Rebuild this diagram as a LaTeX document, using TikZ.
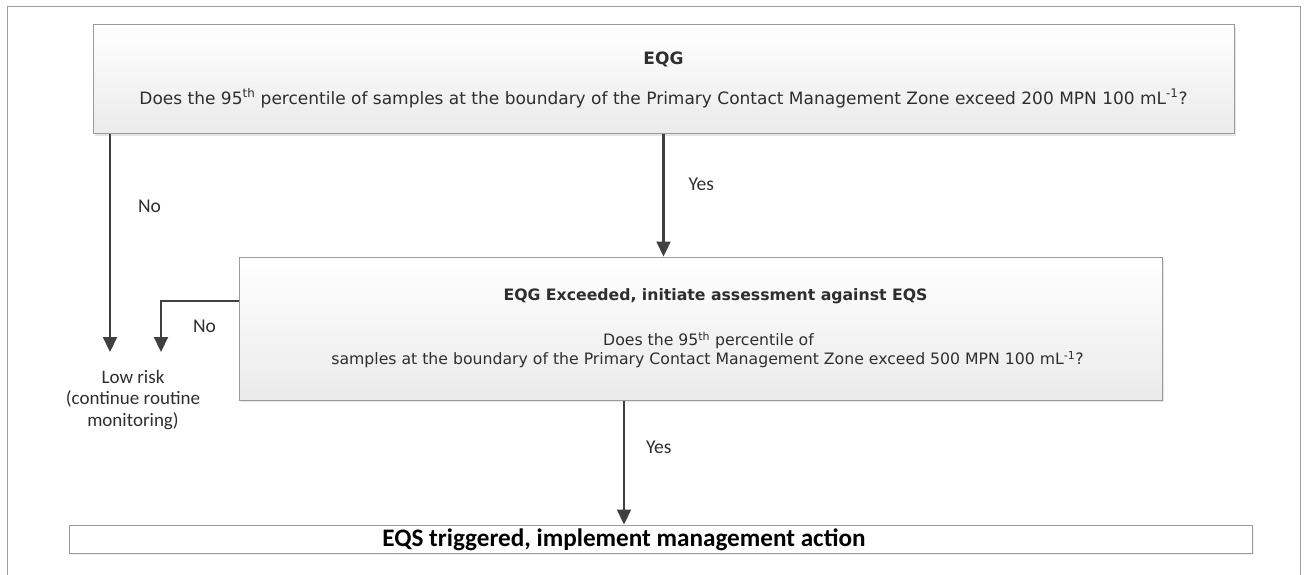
\documentclass[tikz,border=0pt]{standalone}
\usepackage{fontspec}
\setmainfont{DejaVu Sans}
\newfontfamily\calfont{Carlito}
\usepackage{tikz}
\usetikzlibrary{arrows.meta,shadows}

\definecolor{boxline}{HTML}{9A9A9A}
\definecolor{flowline}{HTML}{404040}
\definecolor{bodytext}{HTML}{2E2E2E}

\tikzset{
	qbox/.style={draw=boxline, line width=1pt, top color=white, bottom color=black!8,
		drop shadow={shadow xshift=2pt, shadow yshift=-2pt, opacity=0.25, fill=black!40},
		align=center, text=bodytext, inner sep=0pt},
	endbox/.style={draw=boxline, line width=1pt, fill=white,
		drop shadow={shadow xshift=2pt, shadow yshift=-2pt, opacity=0.15, fill=black!40},
		minimum width=1183pt, minimum height=28pt, inner sep=0pt},
	flow/.style={draw=flowline, line width=2.2pt, -{Triangle[length=15pt, width=14pt]}},
	lbl/.style={font=\calfont\fontsize{19.5}{22}\selectfont, text=bodytext, inner sep=0pt, anchor=west},
	frame/.style={draw=black!38, line width=1pt}
}

\begin{document}
\begin{tikzpicture}[x=1pt, y=-1pt]
		%%%%% START %%%%%
		\useasboundingbox (0,0) rectangle (1306,575);
		\draw[frame] (7,575) -- (7,7) -- (1300,7) -- (1300,575);
		
		% first test against the EQG
		\node[qbox, minimum width=1141pt, minimum height=109pt,
			font=\fontsize{17}{20}\selectfont] (q1) at (663.5,79.5)
			{\textbf{EQG}\\[20pt]
			Does the 95\textsuperscript{th} percentile of samples at the boundary of the Primary Contact Management Zone exceed 200 MPN 100 mL\textsuperscript{-1}?};
		
		% second test against the EQS (text sits a little right of centre)
		\node[qbox, minimum width=923pt, minimum height=143pt,
			font=\fontsize{15.7}{19}\selectfont] (q2) at (700.5,328.5)
			{\hspace*{30pt}\textbf{EQG Exceeded, initiate assessment against EQS}\\[26pt]
			\hspace*{16pt}Does the 95\textsuperscript{th} percentile of\\
			\hspace*{14pt}samples at the boundary of the Primary Contact Management Zone exceed 500 MPN 100 mL\textsuperscript{-1}?};
		
		% outcomes
		\node[align=center, text=bodytext, inner sep=0pt,
			font=\calfont\fontsize{19}{21.5}\selectfont] (low) at (133,400)
			{Low risk\\(continue routine\\monitoring)};
		\node[endbox] (act) at (660.5,539) {};
		\node[font=\calfont\bfseries\fontsize{25.2}{28}\selectfont, inner sep=0pt] (acttxt) at (624,540)
			{EQS triggered, implement management action};
		
		\coordinate (noA) at (110,352);
		\coordinate (noB) at (161,352);
		
		% connectors
		\draw[flow] (q1.south -| noA) -- (noA) node[lbl, pos=0.33, xshift=27pt] {No};
		\draw[flow] (q1.south) -- (q1.south |- q2.north) node[lbl, pos=0.41, xshift=24pt] {Yes};
		\draw[flow] ([yshift=27.5pt]q2.west) -| (noB) node[lbl, pos=0.75, xshift=31pt] {No};
		\draw[flow] (q2.south -| acttxt) -- (act.north -| acttxt) node[lbl, pos=0.38, xshift=21pt] {Yes};
		
		%%%%% END %%%%%
	\end{tikzpicture}
\end{document}
